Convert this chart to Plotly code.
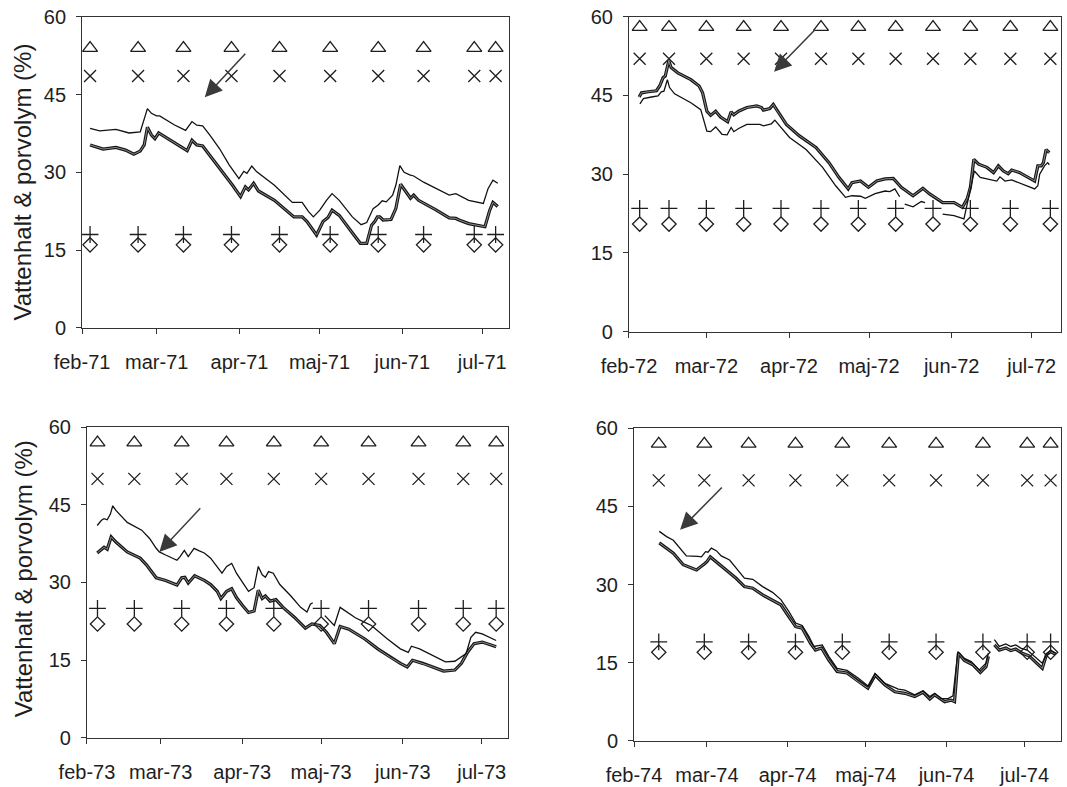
import plotly.graph_objects as go
from datetime import datetime, timedelta

# ---------------------------------------------------------------
# Vattenhalt (water content, %) for two depths, Feb-Jul 1971-1974.
# Days are counted from 1 February of each year.
# ---------------------------------------------------------------

# 1971
dag_71_tunn = [3.0, 6.6, 12.7, 17.6, 21.8, 23.3, 24.5, 26.0, 27.9, 29.1, 34.5, 38.8, 41.2, 43.0, 45.2,
               47.9, 51.5, 55.2, 58.8, 60.6, 61.8, 63.6, 65.5, 72.1, 78.8, 82.5, 84.9, 86.7, 89.1, 91.6,
               93.7, 96.4, 101.3, 104.6, 106.7, 109.1, 111.0, 112.5, 114.0, 116.4, 117.6, 119.1, 120.7,
               122.8, 124.3, 128.0, 132.8, 137.6, 140.1, 144.9, 150.4, 152.2, 154.0, 155.8]
vh_71_tunn = [38.5, 38.0, 38.3, 37.6, 37.8, 40.4, 42.3, 41.4, 40.9, 40.9, 39.2, 38.1, 39.8, 39.1, 39.0,
              37.2, 34.6, 31.4, 28.8, 30.2, 29.8, 31.2, 30.1, 27.5, 24.2, 24.2, 22.4, 21.4, 22.7, 24.6,
              25.9, 24.6, 21.4, 19.9, 20.3, 23.0, 23.7, 24.5, 24.3, 25.6, 27.5, 31.3, 30.0,
              29.5, 29.3, 28.1, 26.9, 25.6, 25.9, 24.6, 24.0, 26.9, 28.5, 27.9]
dag_71_tjock = [3.0, 7.9, 12.7, 16.3, 19.4, 21.8, 23.3, 24.5, 26.0, 27.3, 28.7, 30.9, 35.8, 39.4, 41.2,
                43.0, 45.2, 47.9, 52.7, 56.4, 59.4, 61.2, 62.4, 64.3, 66.1, 72.1, 79.4, 82.5, 84.3, 87.9,
                90.3, 92.2, 93.7, 96.4, 101.9, 104.3, 106.7, 108.5, 109.7, 110.7, 111.6, 112.8, 115.8,
                117.6, 119.4, 121.3, 123.1, 124.3, 126.1, 132.8, 137.6, 140.1, 141.3, 144.9, 151.0,
                152.8, 154.0, 155.8]
vh_71_tjock = [35.3, 34.5, 34.8, 34.3, 33.5, 34.1, 35.3, 38.7, 37.2, 36.5, 37.6, 36.9, 35.4, 34.2, 36.2,
               35.3, 35.1, 33.3, 30.0, 27.5, 25.3, 27.2, 26.6, 27.9, 26.4, 24.6, 21.4, 21.4, 20.5, 17.9,
               20.5, 21.3, 22.7, 21.7, 17.9, 16.3, 16.3, 19.8, 20.5, 21.4, 21.4, 20.8, 20.9,
               23.0, 27.7, 26.3, 25.0, 25.6, 24.6, 22.7, 21.2, 21.1, 20.8, 20.1, 19.5,
               22.7, 24.2, 23.4]
dag_71_mark = [3, 21, 38, 56, 74, 93, 111, 128, 147, 155]
mark_71 = {"triangel": 54, "kryss": 48.6, "plus": 18, "romb": 16}

# 1972
dag_72_tjock = [3.8, 4.7, 7.2, 10.3, 11.5, 12.8, 13.6, 14.4, 14.9, 15.8, 18.3, 23.2, 26.3, 27.6, 29.2,
                30.6, 32.5, 34.3, 36.2, 37.0, 38.3, 39.3, 41.1, 44.2, 47.9, 49.7, 50.4, 52.8, 54.1, 55.3,
                59.0, 63.9, 70.1, 75.0, 78.7, 82.2, 83.6, 86.8, 89.8, 92.9, 96.0, 99.1, 102.1, 106.5,
                110.2, 112.6, 116.3, 117.6, 121.9, 125.0, 126.8, 128.0, 129.3, 131.1, 134.2, 136.7,
                138.5, 140.4, 142.2, 143.5, 146.5, 152.1, 153.3, 154.6, 155.4, 156.4, 157.6]
vh_72_tjock = [44.7, 45.5, 45.7, 45.9, 46.8, 48.4, 48.7, 50.9, 51.6, 50.3, 49.3, 48.0, 46.8, 45.5, 42.0,
               41.2, 42.0, 40.9, 40.3, 40.0, 41.9, 41.3, 42.0, 42.7, 43.0, 42.7, 42.2, 42.5, 43.3, 42.3,
               39.5, 37.3, 35.1, 32.2, 29.4, 27.2, 28.4, 28.7, 27.5, 28.7, 29.1, 29.2, 27.5, 25.9,
               27.3, 26.3, 25.1, 24.6, 24.6, 23.7, 25.3, 27.5, 32.8, 31.9, 31.3, 30.3,
               31.6, 30.6, 30.1, 30.8, 30.3, 28.7, 31.6, 31.6, 32.2, 34.7, 34.1]
dag_72_tunn = [4.1, 5.4, 8.4, 10.9, 12.1, 13.1, 14.4, 15.2, 17.1, 23.2, 26.9, 28.2, 29.2, 30.6, 32.5,
               34.9, 36.8, 38.3, 39.3, 41.1, 44.2, 49.1, 50.4, 53.4, 54.7, 56.5, 60.2, 66.4, 72.6, 77.5,
               81.2, 83.6, 86.8, 88.6, 92.3, 96.0, 97.8, 99.7, 101.5, None, 103.4, 106.5, 109.6, 111.0,
               None, 117.6, 121.9, 125.6, 127.0, 129.5, 131.7, 137.9, 139.1, 141.0, 143.5, 152.1,
               153.3, 154.0, 155.8, 157.0, 157.6]
vh_72_tunn = [43.4, 44.4, 44.7, 44.9, 45.7, 45.8, 48.0, 46.5, 45.3, 43.6, 42.3, 40.0, 38.2, 38.1, 39.0,
              37.6, 37.5, 38.9, 38.1, 38.7, 39.5, 39.5, 39.2, 39.6, 40.3, 39.2, 37.0, 34.7, 31.3, 27.8,
              25.6, 25.9, 25.8, 25.4, 26.3, 26.8, 26.7, 27.2, 25.7, None, 24.3, 23.8, 24.8, 24.6,
              None, 22.4, 22.1, 21.5, 25.0, 30.6, 29.4, 28.7, 29.5, 28.7, 28.9, 27.2,
              27.8, 30.0, 31.6, 32.2, 31.8]
dag_72_mark = [4, 15, 29, 43, 57, 72, 86, 100, 114, 128, 143, 158]
mark_72 = {"triangel": 58, "kryss": 52, "plus": 23.5, "romb": 20.5}

# 1973
dag_73_tunn = [3.9, 5.5, 6.5, 7.7, 8.9, 9.8, 11.0, 15.3, 20.8, 23.8, 26.3, 27.5, 29.9, 34.2, 35.4, 37.0,
               38.5, 40.7, 42.7, 44.6, 47.0, 49.5, 51.3, 53.1, 55.0, 56.8, 59.2, 61.4, 63.5, 65.1, 66.6,
               67.8, 69.0, 70.8, 73.3, 77.5, 81.2, 83.6, 84.9, 85.8, None, 90.4, 94.0, 96.2, 98.3,
               102.0, 105.6, 108.1, 114.2, 119.1, 122.1, 123.3, 126.4, 130.0, 133.7, 136.2, 139.8,
               141.6, 144.1, 145.9, 147.7, 150.2, 153.9, 155.5]
vh_73_tunn = [41.0, 42.0, 42.3, 42.1, 43.2, 44.8, 43.9, 41.6, 40.1, 38.5, 36.6, 35.9, 35.3, 34.3, 35.0, 36.2,
              35.0, 36.6, 36.1, 35.7, 34.7, 33.1, 31.8, 33.1, 33.7, 31.8, 29.9, 28.3, 29.0, 33.1, 31.5,
              31.0, 32.1, 31.8, 29.6, 27.4, 25.2, 24.3, 25.8, 26.1, None, 23.6, 21.7, 25.2, 24.5,
              23.2, 22.3, 21.7, 19.1, 17.2, 16.5, 17.7, 17.2, 16.3, 15.3, 14.7, 14.8,
              15.5, 16.3, 19.4, 20.4, 20.1, 19.1, 18.8]
dag_73_tjock = [3.9, 5.5, 6.5, 7.7, 9.2, 11.0, 15.3, 20.2, 22.6, 26.3, 29.9, 34.2, 36.0, 37.2, 38.5, 40.9,
                44.6, 47.0, 49.5, 50.9, 53.1, 55.0, 56.8, 59.2, 61.4, 63.5, 65.1, 66.6, 67.8, 69.6, 71.8,
                74.5, 78.8, 83.0, 85.5, 88.5, 91.0, 94.0, 96.2, 99.5, 105.6, 110.5, 115.4, 119.1, 121.7,
                123.7, 127.6, 131.3, 135.5, 139.8, 142.3, 144.7, 147.1, 150.2, 153.9, 155.5]
vh_73_tjock = [35.7, 36.4, 36.8, 36.4, 38.8, 37.8, 35.9, 34.7, 33.4, 30.9, 30.4, 29.5, 30.9, 31.0, 29.9, 31.3,
               30.4, 29.6, 28.3, 26.9, 28.3, 28.8, 27.1, 25.5, 24.2, 24.5, 28.5, 26.9, 27.4, 26.4, 26.7,
               25.2, 23.3, 21.2, 22.0, 21.7, 20.4, 18.2, 21.5, 21.0, 19.1, 17.2, 15.5, 14.4, 13.7,
               15.0, 14.4, 13.7, 12.9, 13.1, 14.4, 16.6, 18.2, 18.5, 17.9, 17.6]
dag_73_mark = [4, 18, 36, 53, 71, 89, 107, 126, 143, 155.5]
mark_73 = {"triangel": 57, "kryss": 50, "plus": 25, "romb": 22}

# 1974
dag_74_tunn = [9.7, 12.5, 15.1, 17.6, 20.1, 24.6, 25.9, 27.5, 28.4, 29.7, 31.6, 33.5, 36.7, 39.8, 42.4,
               45.6, 49.4, 53.2, 56.4, 59.5, 62.1, 64.6, 67.2, 69.1, 72.3, 74.8, 78.0, 81.8, 86.2, 90.1,
               92.6, 96.4, 98.9, 101.5, 104.0, 107.8, 111.0, 113.6, 115.5, 118.0, 120.6, 122.5, 124.4,
               126.9, 129.5, 132.6, 135.2, 136.1, None, 138.4, 140.3, 142.8, 144.7, 146.6, 148.5,
               151.0, 156.8, 158.1, 160.0, 161.9]
vh_74_tunn = [40.2, 39.2, 38.5, 37.0, 35.5, 35.4, 35.3, 36.3, 36.2, 37.0, 36.5, 35.5, 34.7, 32.8, 31.2,
              31.0, 29.6, 28.5, 27.1, 24.8, 22.6, 22.1, 20.0, 18.1, 18.4, 16.2, 13.9, 13.5, 12.0, 10.4,
              12.9, 11.0, 10.4, 9.9, 9.7, 8.8, 9.6, 8.5, 9.1, 8.1, 8.1, 8.6, 17.1,
              15.8, 15.2, 13.6, 14.9, 16.8, None, 19.4, 18.1, 18.6, 18.1, 18.4, 17.8,
              17.4, 14.9, 16.2, 17.4, 16.8]
dag_74_tjock = [9.7, 15.1, 18.9, 24.0, 27.1, 28.0, 29.3, 32.2, 35.4, 39.2, 42.4, 45.6, 49.4, 52.6, 56.4,
                59.5, 62.1, 64.6, 67.8, 69.7, 72.0, 74.8, 78.0, 81.8, 86.2, 89.8, 92.6, 96.4, 100.2,
                104.0, 107.8, 111.0, 113.6, 115.5, 119.3, 121.8, 123.1, 124.6, 126.9, 130.1, 133.0,
                135.2, 136.1, None, 138.4, 140.3, 142.8, 144.7, 146.6, 149.1, 151.7, 156.8, 158.4,
                160.0, 161.9]
vh_74_tjock = [38.0, 36.0, 33.8, 32.8, 34.0, 34.4, 35.3, 34.1, 32.8, 31.2, 29.6, 29.3, 28.0, 27.1, 26.1,
               23.8, 21.9, 21.6, 18.7, 17.4, 17.8, 15.5, 13.3, 13.0, 11.3, 10.1, 12.6, 10.7, 9.4,
               9.1, 8.5, 9.3, 8.0, 8.8, 7.5, 7.8, 7.5, 16.8, 15.4, 14.6, 13.1,
               14.2, 16.2, None, 18.4, 17.4, 17.8, 17.3, 17.6, 16.8, 16.3, 13.9, 16.5,
               17.1, 16.6]
dag_74_mark = [9.5, 27, 44, 62, 80, 98, 116, 134, 151, 160]
mark_74 = {"triangel": 57, "kryss": 50, "plus": 19, "romb": 17}

# Axis tick labels (Swedish month abbreviations)
manader = ["feb", "mar", "apr", "maj", "jun", "jul"]
y_titel = "Vattenhalt & porvolym (%)"

FONT = "Liberation Sans, Arial, sans-serif"
INK = "#1e1e1e"

panels = [
    dict(year=1971, thin=(dag_71_tunn, vh_71_tunn), thick=(dag_71_tjock, vh_71_tjock),
         mdays=dag_71_mark, mvals=mark_71, end=160,
         arrow=((46.0, 44.5), (61.7, 53.2)),
         xdom=[0.0769, 0.4770], ydom=[0.5836, 0.9784]),
    dict(year=1972, thin=(dag_72_tunn, vh_72_tunn), thick=(dag_72_tjock, vh_72_tjock),
         mdays=dag_72_mark, mvals=mark_72, end=162,
         arrow=((54.4, 49.5), (70.3, 57.8)),
         xdom=[0.5895, 0.9944], ydom=[0.5785, 0.9788]),
    dict(year=1973, thin=(dag_73_tunn, vh_73_tunn), thick=(dag_73_tjock, vh_73_tjock),
         mdays=dag_73_mark, mvals=mark_73, end=160,
         arrow=((27.5, 35.9), (43.6, 44.6)),
         xdom=[0.0815, 0.4761], ydom=[0.0623, 0.4574]),
    dict(year=1974, thin=(dag_74_tunn, vh_74_tunn), thick=(dag_74_tjock, vh_74_tjock),
         mdays=dag_74_mark, mvals=mark_74, end=164,
         arrow=((17.7, 40.5), (34.3, 48.9)),
         xdom=[0.5942, 0.9944], ydom=[0.0588, 0.4558]),
]

symbols = {"triangel": ("triangle-up-open", 13),
           "kryss": ("x-thin-open", 12),
           "plus": ("cross-thin-open", 12),
           "romb": ("diamond-open", 11)}

fig = go.Figure()
layout = {}
annotations = []

for i, p in enumerate(panels):
    n = "" if i == 0 else str(i + 1)
    xa, ya = "x" + n, "y" + n
    base = datetime(p["year"], 2, 1)

    def to_dt(d, base=base):
        return None if d is None else base + timedelta(days=d)

    # thick line: dark outline with a lighter core
    dk, vk = p["thick"]
    xk = [to_dt(d) for d in dk]
    fig.add_trace(go.Scatter(x=xk, y=vk, mode="lines", xaxis=xa, yaxis=ya,
                             line=dict(color="#161616", width=3.2), connectgaps=False,
                             showlegend=False, hoverinfo="skip"))
    fig.add_trace(go.Scatter(x=xk, y=vk, mode="lines", xaxis=xa, yaxis=ya,
                             line=dict(color="#8c8c8c", width=1.0), connectgaps=False,
                             showlegend=False, hoverinfo="skip"))
    # thin line
    dt_, vt = p["thin"]
    fig.add_trace(go.Scatter(x=[to_dt(d) for d in dt_], y=vt, mode="lines", xaxis=xa, yaxis=ya,
                             line=dict(color="#111111", width=1.3), connectgaps=False,
                             showlegend=False, hoverinfo="skip"))
    # reference levels shown as open markers
    mx = [to_dt(d) for d in p["mdays"]]
    for key, (sym, size) in symbols.items():
        fig.add_trace(go.Scatter(x=mx, y=[p["mvals"][key]] * len(mx), mode="markers",
                                 xaxis=xa, yaxis=ya, showlegend=False, hoverinfo="skip",
                                 marker=dict(symbol=sym, size=size, color=INK,
                                             line=dict(color=INK, width=1.3))))

    yy = str(p["year"])[-2:]
    tickvals = [datetime(p["year"], m, 1) for m in range(2, 8)]
    ticktext = [f"{m}-{yy}" for m in manader]

    layout["xaxis" + n] = dict(domain=p["xdom"], anchor=ya, type="date", automargin=False,
                               range=[base, base + timedelta(days=p["end"])],
                               tickvals=tickvals, ticktext=ticktext,
                               ticks="outside", ticklen=5, tickcolor="#333", tickwidth=1,
                               showline=True, linecolor="#333", linewidth=1, mirror=True,
                               showgrid=False, zeroline=False, ticklabelstandoff=11,
                               tickfont=dict(family=FONT, size=20, color=INK))
    layout["yaxis" + n] = dict(domain=p["ydom"], anchor=xa, range=[0, 60], automargin=False,
                               tick0=0, dtick=15,
                               ticks="outside", ticklen=5, tickcolor="#333", tickwidth=1,
                               showline=True, linecolor="#333", linewidth=1, mirror=True,
                               showgrid=False, zeroline=False, ticklabelstandoff=6,
                               tickfont=dict(family=FONT, size=20, color=INK))

    (hx, hy), (tx, ty) = p["arrow"]
    annotations.append(dict(x=to_dt(hx), y=hy, ax=to_dt(tx), ay=ty,
                            xref=xa, yref=ya, axref=xa, ayref=ya,
                            text="", showarrow=True, arrowhead=2, arrowsize=2.3,
                            arrowwidth=1.5, arrowcolor="#3a3a3a"))

# y-axis titles on the left column
for ycen in (0.768, 0.264):
    annotations.append(dict(text=y_titel, x=23 / 1067, y=ycen, xref="paper", yref="paper",
                            xanchor="center", yanchor="middle", textangle=-90,
                            showarrow=False, font=dict(family=FONT, size=24, color=INK)))

fig.update_layout(width=1067, height=787, margin=dict(l=0, r=0, t=0, b=0, autoexpand=False),
                  paper_bgcolor="white", plot_bgcolor="white",
                  showlegend=False, annotations=annotations, **layout)

fig.write_html("out.html")
